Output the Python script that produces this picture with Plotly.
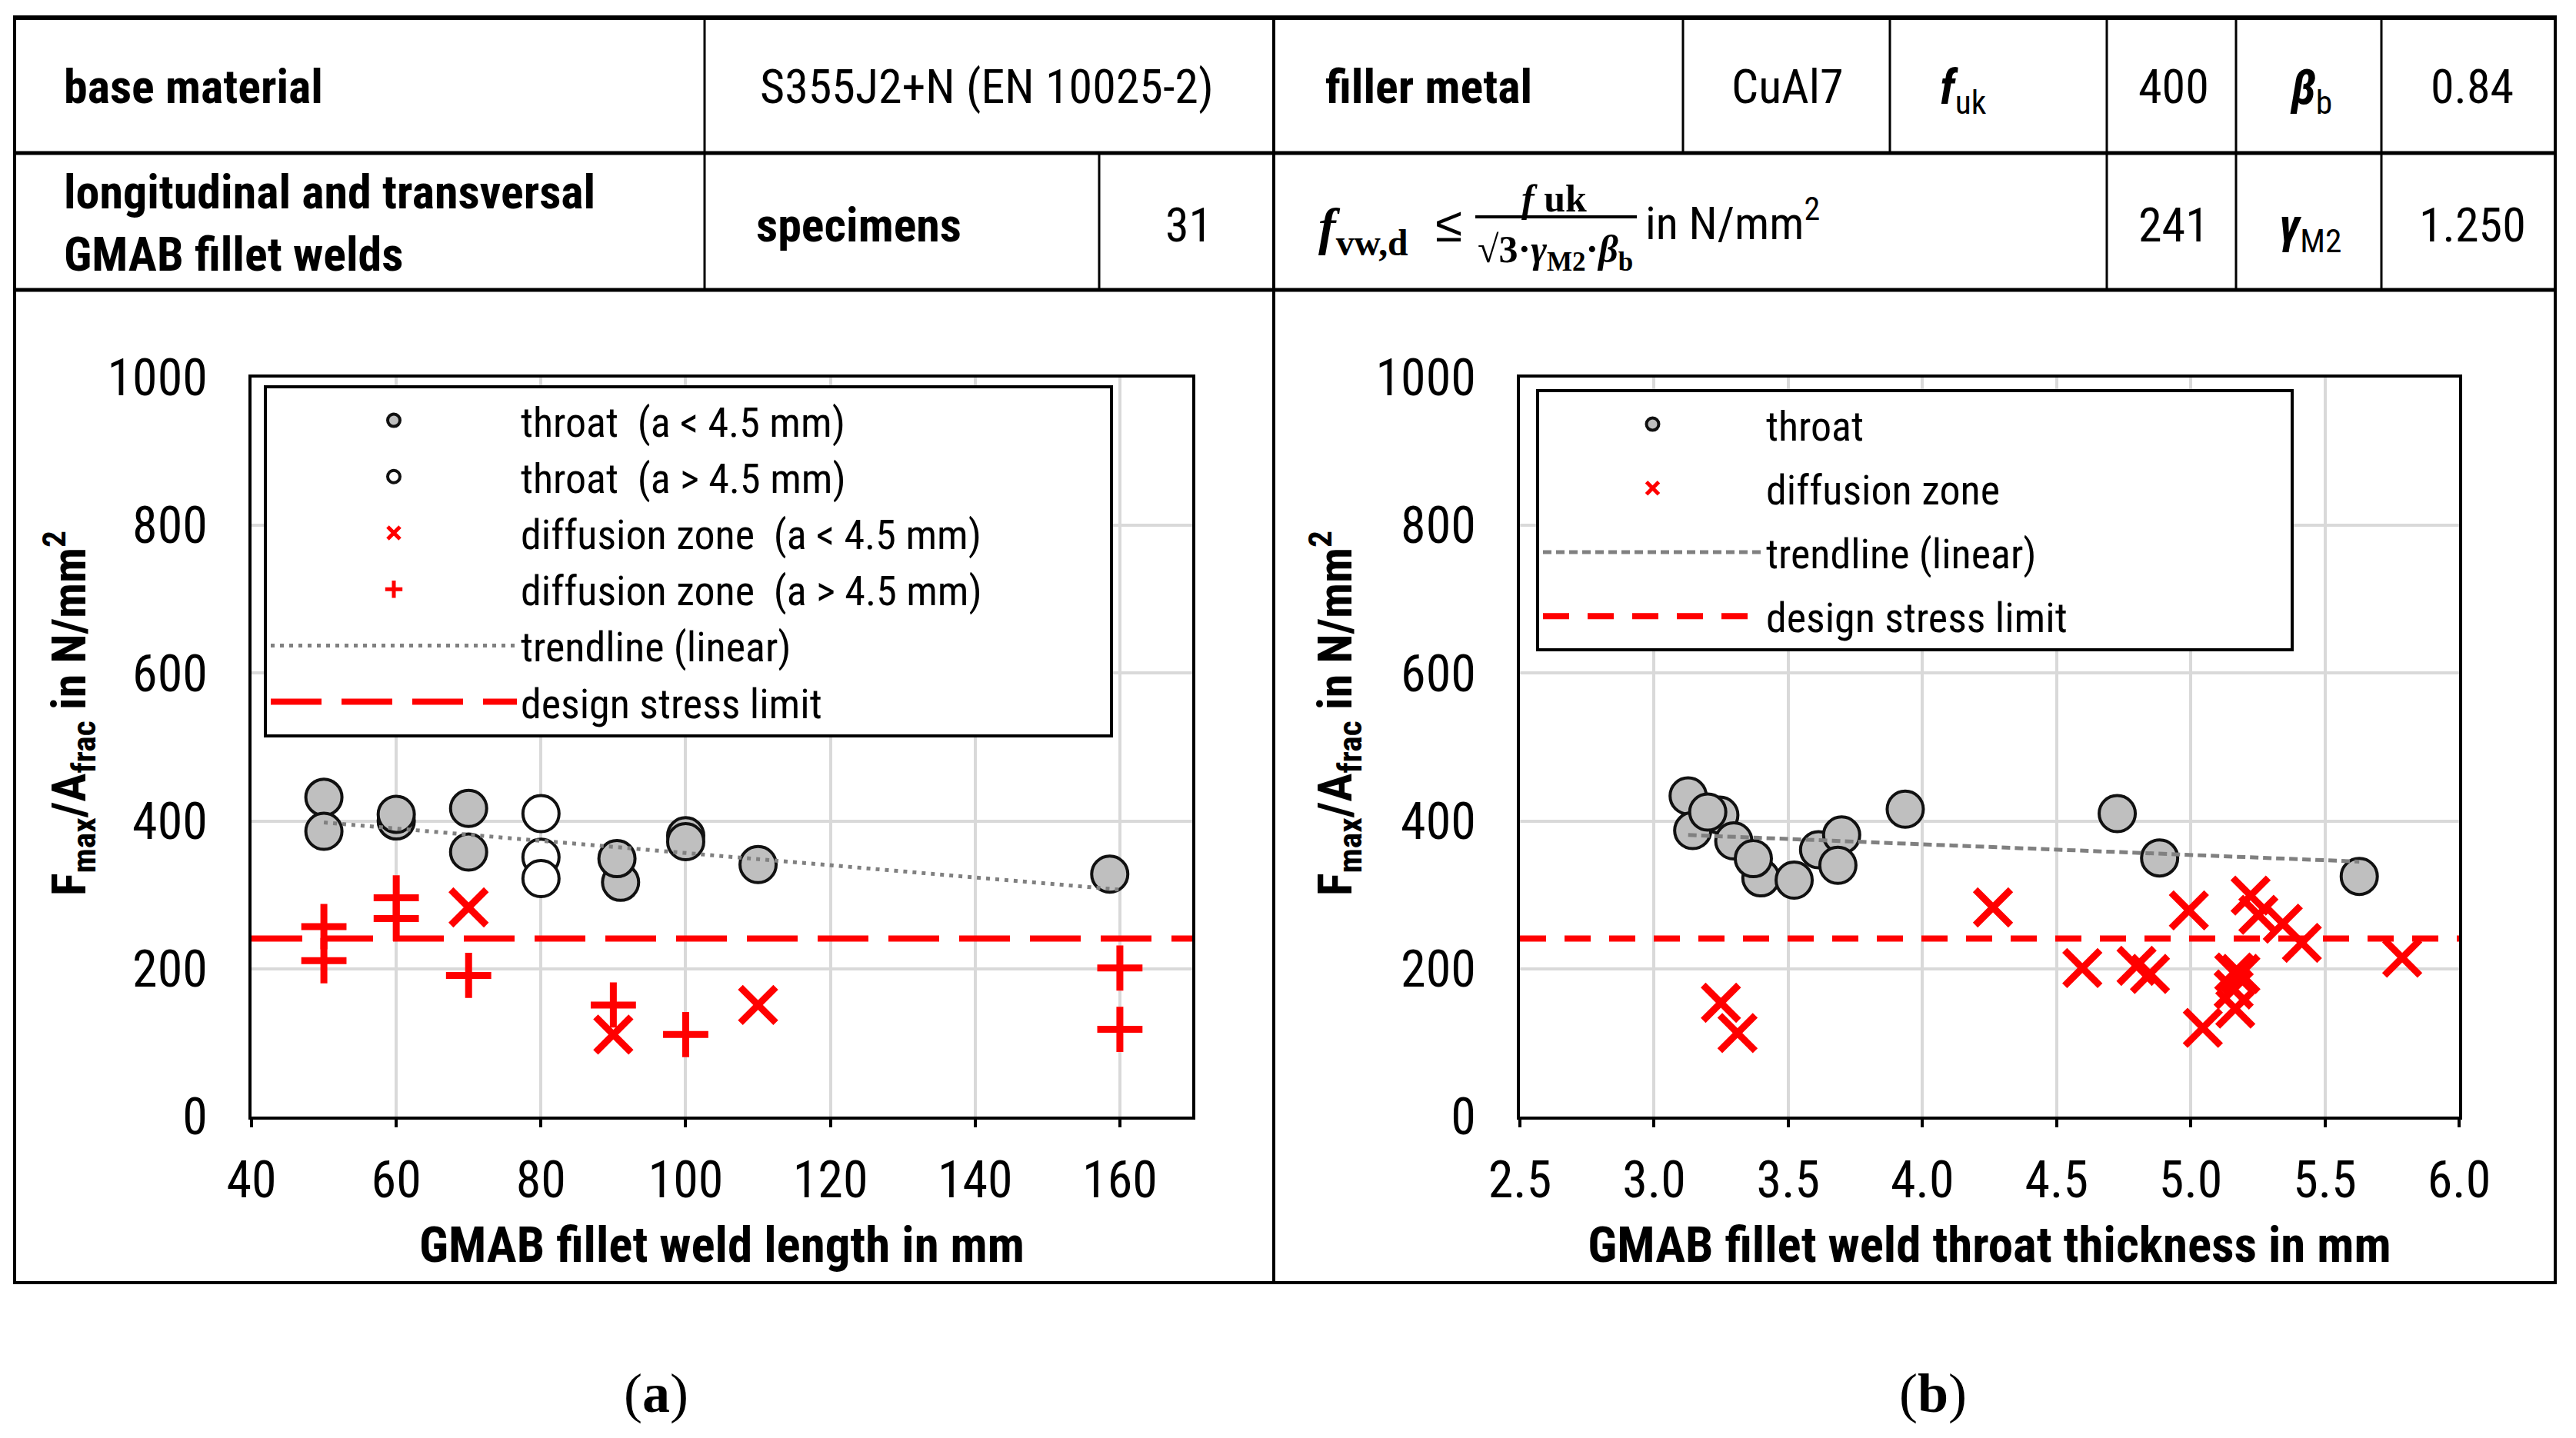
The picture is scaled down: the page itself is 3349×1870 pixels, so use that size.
import plotly.graph_objects as go

W, H = 3349, 1870
PAGE_OFFSET = 8  # the page body margin shifts the figure by 8 px

# ---------------- data ----------------
# (a) stress vs. weld length
len_throat_small_x = [50, 50, 60, 60, 70, 70, 91, 90.5, 100, 100, 110, 158.6]
len_throat_small_y = [432, 386, 400, 409, 417, 358, 317, 349, 380, 372, 341, 328]
len_throat_large_x = [80, 80, 80]
len_throat_large_y = [410, 351, 322]
len_diff_small_x = [70, 90, 110]
len_diff_small_y = [283, 111, 151]
len_diff_large_x = [50, 50, 60, 60, 70, 90, 100, 160, 160]
len_diff_large_y = [257, 211, 296, 268, 191, 151, 111, 201, 118]
len_trend_x = [50, 160]
len_trend_y = [398, 307]

# (b) stress vs. throat thickness
thk_throat_x = [3.127, 3.144, 3.245, 3.200, 3.297, 3.398, 3.370, 3.522, 3.613, 3.699,
                3.685, 3.936, 4.726, 4.884, 5.628]
thk_throat_y = [434, 387, 408, 412, 373, 323, 349, 320, 361, 381, 340, 416, 410, 350, 325]
thk_diff_x = [3.249, 3.311, 4.263, 4.596, 4.798, 4.848, 4.993, 5.045, 5.162, 5.185,
              5.160, 5.166, 5.223, 5.252, 5.343, 5.414, 5.788]
thk_diff_y = [154, 113, 283, 201, 204, 193, 279, 120, 195, 193, 172, 146, 299, 273, 261, 235, 215]
thk_trend_x = [3.127, 5.628]
thk_trend_y = [381, 345]

design_limit = 241
len_range = [40, 170]
thk_range = [2.5, 6.0]

# legend labels
left_names = ["throat\u00a0\u00a0(a &lt; 4.5 mm)", "throat\u00a0\u00a0(a &gt; 4.5 mm)",
              "diffusion zone\u00a0\u00a0(a &lt; 4.5 mm)",
              "diffusion zone\u00a0\u00a0(a &gt; 4.5 mm)" + "\u00a0" * 13,
              "trendline (linear)", "design stress limit"]
right_names = ["throat", "diffusion zone", "trendline (linear)",
               "design stress limit" + "\u00a0" * 23]

# table content
row1_labels = ["base material", "filler metal"]
row1_values = ["S355J2+N (EN 10025-2)", "CuAl7", "400", "0.84"]
row1_symbols = ["<b><i>f</i></b><sub>uk</sub>", "<b><i>β</i></b><sub>b</sub>"]
row2_labels = ["longitudinal and transversal<br>GMAB fillet welds", "specimens"]
row2_values = ["31", "241", "1.250"]
row2_symbols = ["<b><i>γ</i></b><sub>M2</sub>"]
x_titles = ["<b>GMAB fillet weld length in mm</b>",
            "<b>GMAB fillet weld throat thickness in mm</b>"]
y_title = "<b>F<sub>max</sub>/A<sub>frac</sub> in N/mm<sup>2</sup></b>"
captions = ["(<b>a</b>)", "(<b>b</b>)"]

# ---------------- style ----------------
NARROW = "Roboto Condensed, DejaVu Sans Condensed, Liberation Sans Narrow, Arial Narrow, Liberation Sans, sans-serif"
SERIF = "Liberation Serif, Times New Roman, serif"
RED = "#ff0000"
FILL = "#bfbfbf"
EDGE = "#111111"


def X(p):
    return (p - PAGE_OFFSET) / W


def Y(p):
    return 1 - (p - PAGE_OFFSET) / H


fig = go.Figure()

circ_gray = dict(symbol="circle", size=47, color=FILL, line=dict(color=EDGE, width=4))
circ_open = dict(symbol="circle", size=47, color="white", line=dict(color=EDGE, width=4))
xmark = dict(symbol="x-thin", size=46, color=RED, line=dict(color=RED, width=9))
pmark = dict(symbol="cross-thin", size=42, color=RED, line=dict(color=RED, width=9))

# left panel
fig.add_trace(go.Scatter(x=len_throat_small_x, y=len_throat_small_y, mode="markers",
                         marker=circ_gray, name=left_names[0],
                         xaxis="x", yaxis="y", legend="legend"))
fig.add_trace(go.Scatter(x=len_throat_large_x, y=len_throat_large_y, mode="markers",
                         marker=circ_open, name=left_names[1],
                         xaxis="x", yaxis="y", legend="legend"))
fig.add_trace(go.Scatter(x=len_diff_small_x, y=len_diff_small_y, mode="markers",
                         marker=xmark, name=left_names[2],
                         xaxis="x", yaxis="y", legend="legend"))
fig.add_trace(go.Scatter(x=len_diff_large_x, y=len_diff_large_y, mode="markers",
                         marker=pmark, name=left_names[3],
                         xaxis="x", yaxis="y", legend="legend"))
fig.add_trace(go.Scatter(x=len_trend_x, y=len_trend_y, mode="lines",
                         line=dict(color="#808080", width=5, dash="5px,7px"),
                         name=left_names[4], xaxis="x", yaxis="y", legend="legend"))
fig.add_trace(go.Scatter(x=len_range, y=[design_limit] * 2, mode="lines",
                         line=dict(color=RED, width=8, dash="66px,26px"),
                         name=left_names[5], xaxis="x", yaxis="y", legend="legend"))

# right panel
fig.add_trace(go.Scatter(x=thk_throat_x, y=thk_throat_y, mode="markers",
                         marker=circ_gray, name=right_names[0], legendgroup="a",
                         xaxis="x2", yaxis="y2", legend="legend2"))
fig.add_trace(go.Scatter(x=thk_diff_x, y=thk_diff_y, mode="markers",
                         marker=xmark, name=right_names[1], legendgroup="b",
                         xaxis="x2", yaxis="y2", legend="legend2"))
fig.add_trace(go.Scatter(x=thk_trend_x, y=thk_trend_y, mode="lines",
                         line=dict(color="#808080", width=5, dash="11px,6px"),
                         name=right_names[2], legendgroup="c",
                         xaxis="x2", yaxis="y2", legend="legend2"))
fig.add_trace(go.Scatter(x=thk_range, y=[design_limit] * 2, mode="lines",
                         line=dict(color=RED, width=8, dash="34px,24px"),
                         name=right_names[3], legendgroup="d",
                         xaxis="x2", yaxis="y2", legend="legend2"))

axis_common = dict(showgrid=True, gridcolor="#d9d9d9", gridwidth=4, zeroline=False,
                   showline=True, linecolor="black", linewidth=4, mirror=True,
                   automargin=False,
                   tickfont=dict(family=NARROW, size=66, color="black"))
xt = dict(ticks="outside", ticklen=10, tickwidth=4, tickcolor="black", ticklabelstandoff=12)
title_font = dict(family=NARROW, size=65, color="black")

fig.update_layout(
    width=W, height=H, margin=dict(l=0, r=0, t=0, b=0, pad=0, autoexpand=False),
    autosize=False,
    paper_bgcolor="white", plot_bgcolor="white",
    xaxis=dict(domain=[X(327), X(1550)], range=len_range, tick0=40, dtick=20,
               anchor="y", title=dict(text=x_titles[0], font=title_font, standoff=24),
               **axis_common, **xt),
    yaxis=dict(domain=[Y(1452), Y(491)], range=[0, 1000], dtick=200, anchor="x",
               ticks="", ticklabelstandoff=40, **axis_common),
    xaxis2=dict(domain=[X(1976), X(3197)], range=thk_range, tick0=2.5, dtick=0.5,
                tickformat=".1f", anchor="y2",
                title=dict(text=x_titles[1], font=title_font, standoff=24),
                **axis_common, **xt),
    yaxis2=dict(domain=[Y(1452), Y(491)], range=[0, 1000], dtick=200, anchor="x2",
                ticks="", ticklabelstandoff=40, **axis_common),
    legend=dict(x=X(343), y=Y(501), xanchor="left", yanchor="top", bgcolor="white",
                bordercolor="black", borderwidth=4, itemwidth=320,
                font=dict(family=NARROW, size=54, color="black"), traceorder="normal"),
    legend2=dict(x=X(1997), y=Y(506), xanchor="left", yanchor="top", bgcolor="white",
                 bordercolor="black", borderwidth=4, itemwidth=285, tracegroupgap=10,
                 font=dict(family=NARROW, size=54, color="black")),
)

# ---------------- table & frame ----------------
shapes = []


def hline(x0, x1, y, w):
    shapes.append(dict(type="line", xref="paper", yref="paper", x0=X(x0), x1=X(x1),
                       y0=Y(y), y1=Y(y), line=dict(color="black", width=w)))


def vline(x, y0, y1, w):
    shapes.append(dict(type="line", xref="paper", yref="paper", x0=X(x), x1=X(x),
                       y0=Y(y0), y1=Y(y1), line=dict(color="black", width=w)))


hline(17, 3324, 23, 6)
hline(17, 3324, 199, 5)
hline(17, 3324, 377, 5)
hline(17, 3324, 1668, 4)
vline(19, 21, 1670, 4)
vline(3322, 21, 1670, 4)
vline(1656, 21, 1670, 4)
for xv in [916, 2188, 2457, 2739, 2907, 3096]:
    vline(xv, 23, 199, 3)
for xv in [916, 1429, 2739, 2907, 3096]:
    vline(xv, 199, 377, 3)
# fraction bar of the formula
hline(1918, 2128, 282, 4)

ann = []


def text(t, x, y, size=62, fam=NARROW, anchor="left", angle=0):
    ann.append(dict(text=t, x=X(x), y=Y(y), xref="paper", yref="paper", showarrow=False,
                    xanchor=anchor, yanchor="middle", align=anchor, textangle=angle,
                    font=dict(family=fam, size=size, color="black")))


text("<b>%s</b>" % row1_labels[0], 81, 112)
text(row1_values[0], 1283, 112, anchor="center")
text("<b>%s</b>" % row1_labels[1], 1721, 112)
text(row1_values[1], 2324, 112, anchor="center")
text(row1_symbols[0], 2520, 118)
text(row1_values[2], 2826, 112, anchor="center")
text(row1_symbols[1], 3004, 118, anchor="center")
text(row1_values[3], 3214, 112, anchor="center")

text("<b>%s</b>" % row2_labels[0], 81, 290)
text("<b>%s</b>" % row2_labels[1], 981, 292)
text(row2_values[0], 1545, 292, anchor="center")
text(row2_values[1], 2826, 292, anchor="center")
text(row2_symbols[0], 3004, 298, anchor="center")
text(row2_values[2], 3214, 292, anchor="center")

# formula
text("<b><i>f</i></b><sub><b>vw,d</b></sub>", 1712, 300, size=68, fam=SERIF)
text("≤", 1864, 292, size=64, fam="Liberation Sans, sans-serif")
text("<b><i>f</i> uk</b>", 2020, 258, size=50, fam=SERIF, anchor="center")
text("<b>√3·<i>γ</i><sub>M2</sub>·<i>β</i><sub>b</sub></b>", 2022, 328, size=50, fam=SERIF,
     anchor="center")
text("in N/mm<sup>2</sup>", 2137, 286, size=60)

# y-axis titles
text(y_title, 90, 928, size=62, anchor="center", angle=-90)
text(y_title, 1736, 928, size=62, anchor="center", angle=-90)

text(captions[0], 853, 1812, size=72, fam=SERIF, anchor="center")
text(captions[1], 2513, 1812, size=72, fam=SERIF, anchor="center")

fig.update_layout(shapes=shapes, annotations=ann)
fig.write_html("out.html")
